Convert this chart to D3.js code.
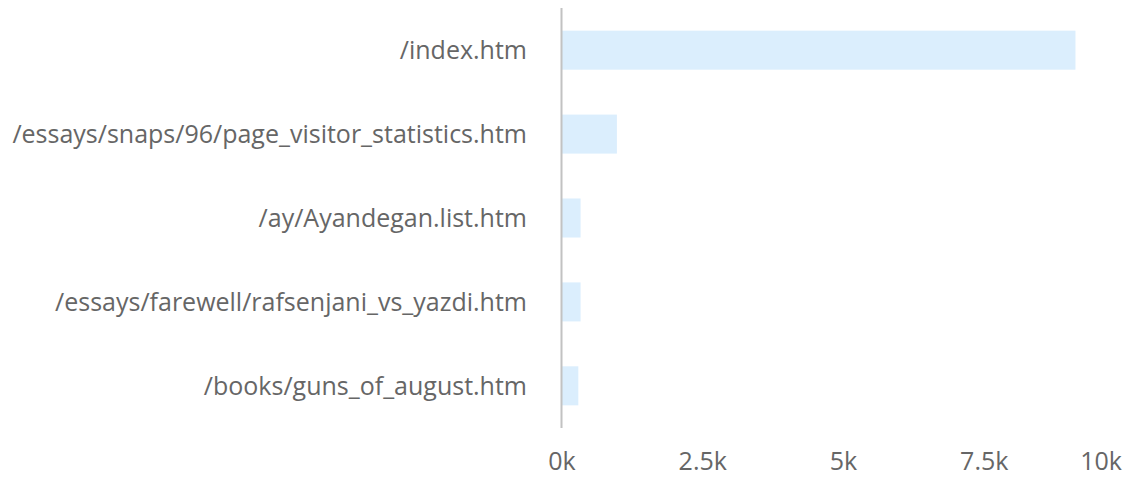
<!DOCTYPE html>
<html>
<head>
<meta charset="utf-8">
<script src="https://cdn.jsdelivr.net/npm/d3@7"></script>
<style>
    body { margin: 0; background: #fff; }
    text { font-family: "Open Sans", sans-serif; fill: #666; }
</style>
</head>
<body>
<svg id="chart"></svg>
<script>
// Page paths and visitor counts
const pages = [
    '/index.htm',
    '/essays/snaps/96/page_visitor_statistics.htm',
    '/ay/Ayandegan.list.htm',
    '/essays/farewell/rafsenjani_vs_yazdi.htm',
    '/books/guns_of_august.htm'
];
const visits = [9120, 975, 330, 330, 290];
const xTicks = [0, 2500, 5000, 7500, 10000];
const xTickLabels = ['0k', '2.5k', '5k', '7.5k', '10k'];

const width = 1130, height = 477;
const margin = {top: 8, right: 5, bottom: 49, left: 562};

const svg = d3.select('#chart')
    .attr('width', width)
    .attr('height', height);

const innerW = width - margin.left - margin.right;
const innerH = height - margin.top - margin.bottom;

const chart = svg.append('g')
    .attr('transform', `translate(${margin.left},${margin.top})`);

const x = d3.scaleLinear().domain([0, 10000]).range([0, innerW]);
const y = d3.scaleBand().domain(pages).range([0, innerH]).paddingInner(0.535).paddingOuter(0.27);

// bars
chart.selectAll('.bar')
    .data(pages.map((p, i) => ({page: p, value: visits[i]})))
    .join('rect')
    .attr('class', 'bar')
    .attr('x', x(0))
    .attr('y', d => y(d.page))
    .attr('width', d => x(d.value))
    .attr('height', y.bandwidth())
    .attr('fill', '#dbeefd');

// category axis line
chart.append('line')
    .attr('x1', -0.5).attr('x2', -0.5)
    .attr('y1', 0).attr('y2', innerH)
    .attr('stroke', '#c2c2c2')
    .attr('stroke-width', 2);

// category labels
chart.selectAll('.cat-label')
    .data(pages)
    .join('text')
    .attr('class', 'cat-label')
    .attr('x', -35)
    .attr('y', d => y(d) + y.bandwidth() / 2)
    .attr('dy', '0.35em')
    .attr('text-anchor', 'end')
    .style('font-size', '25px')
    .text(d => d);

// value tick labels (last one pulled in to stay inside the chart)
chart.selectAll('.tick-label')
    .data(xTicks)
    .join('text')
    .attr('class', 'tick-label')
    .attr('x', (d, i) => i === xTicks.length - 1 ? innerW - 3 : x(d))
    .attr('y', innerH + 42)
    .attr('text-anchor', (d, i) => i === xTicks.length - 1 ? 'end' : 'middle')
    .style('font-size', '25px')
    .text((d, i) => xTickLabels[i]);
</script>
</body>
</html>
